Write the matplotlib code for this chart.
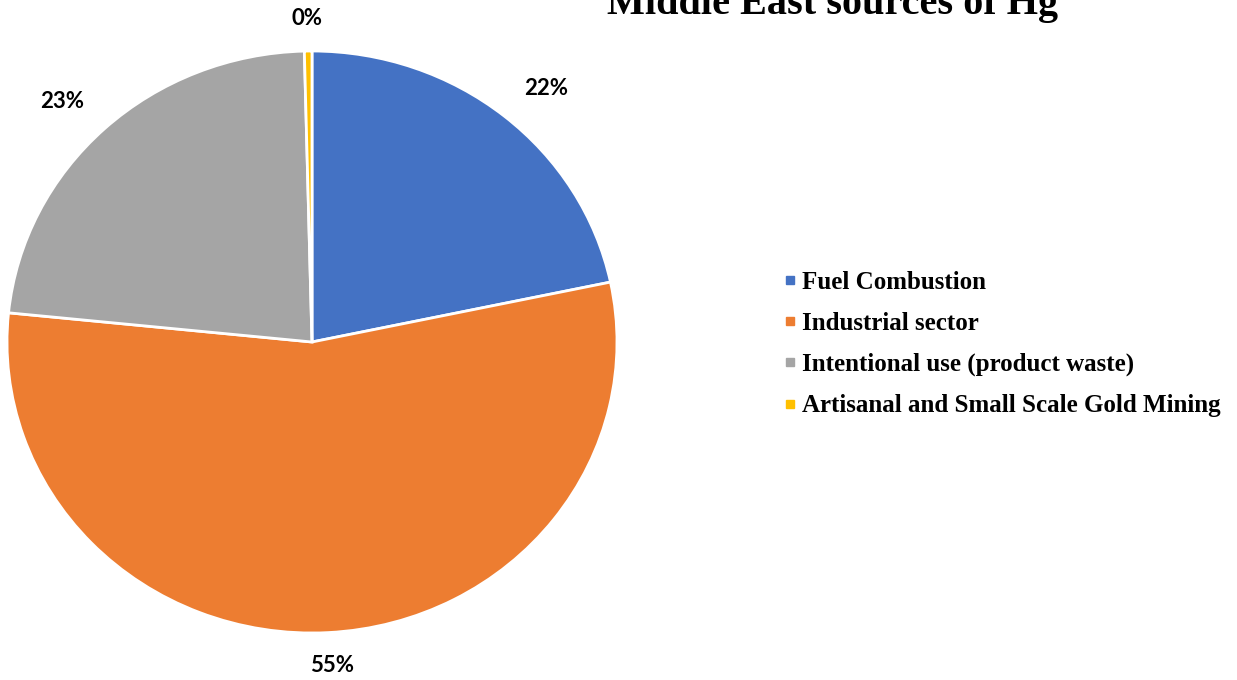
import numpy as np
import matplotlib.pyplot as plt
from matplotlib.lines import Line2D

sources = ['Fuel Combustion', 'Industrial sector',
           'Intentional use (product waste)', 'Artisanal and Small Scale Gold Mining']
shares = [21.7, 54.9, 23.0, 0.4]
colors = ['#4472C4', '#ED7D31', '#A5A5A5', '#FFC000']

fig = plt.figure(figsize=(12.37, 6.8), dpi=100)
ax = fig.add_axes([7 / 1237, 47 / 680, 610 / 1237, 582 / 680])

wedges, texts, autotexts = ax.pie(
    shares, colors=colors, startangle=90, counterclock=False,
    autopct=lambda p: f'{p:.0f}%', pctdistance=1.12,
    wedgeprops=dict(edgecolor='white', linewidth=2),
    textprops=dict(fontfamily='Lato', fontweight='bold', fontsize=16, color='black'))
ax.set_aspect('auto')
ax.set_xlim(-1, 1)
ax.set_ylim(-1, 1)

# push labels outside the rim like Excel's "outside end"
rx, ry = 610 / 2, 582 / 2
gap, hw, hh = 23, 27, 10
for w, t in zip(wedges, autotexts):
    a = np.deg2rad((w.theta1 + w.theta2) / 2)
    c, s = np.cos(a), np.sin(a)
    x = c + (gap * c + hw * np.clip(2 * c, -1, 1)) / rx
    y = s + (gap * s + hh * np.clip(2 * s, -1, 1)) / ry
    t.set_position((x, y))

fig.text(0.673, 1 - 14 / 680, 'Middle East sources of Hg', ha='center', va='baseline',
         fontfamily='Liberation Serif', fontweight='bold', fontsize=29)

handles = [Line2D([], [], marker='s', linestyle='none', markersize=5.5,
                  markerfacecolor=c, markeredgecolor=c) for c in colors]
fig.legend(handles, sources, loc='center left', bbox_to_anchor=(0.6346, 0.494),
           frameon=False, borderpad=0, borderaxespad=0, handlelength=0.4,
           handletextpad=0.28, labelspacing=0.72,
           prop=dict(family='Liberation Serif', weight='bold', size=18))

fig.savefig('out.png', dpi=100)
